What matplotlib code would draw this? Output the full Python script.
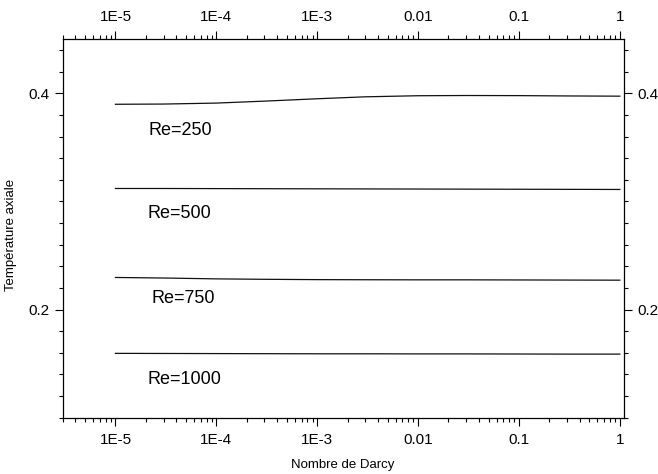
import numpy as np
import matplotlib
matplotlib.use("Agg")
import matplotlib.pyplot as plt
from matplotlib.ticker import FixedLocator, FixedFormatter, NullFormatter

plt.rcParams['font.family'] = ['Liberation Sans', 'DejaVu Sans']

# Data
darcy = [1e-5, 3e-5, 1e-4, 3e-4, 1e-3, 3e-3, 1e-2, 3e-2, 1e-1, 3e-1, 1.0]
t_re250 = [0.3899, 0.3901, 0.3910, 0.3928, 0.3950, 0.3968, 0.3978, 0.3980, 0.3979, 0.3976, 0.3974]
t_re500 = [0.3120, 0.3120, 0.3119, 0.3118, 0.3117, 0.3116, 0.3115, 0.3114, 0.3113, 0.3112, 0.3111]
t_re750 = [0.2297, 0.2292, 0.2284, 0.2280, 0.2277, 0.2276, 0.2275, 0.2275, 0.2274, 0.2273, 0.2272]
t_re1000 = [0.1595, 0.1594, 0.1593, 0.1592, 0.1591, 0.1591, 0.1590, 0.1590, 0.1589, 0.1588, 0.1588]
series = [t_re250, t_re500, t_re750, t_re1000]
labels = ["Re=250", "Re=500", "Re=750", "Re=1000"]
label_x = [2.15e-5, 2.1e-5, 2.3e-5, 2.1e-5]
label_y = [0.3655, 0.2890, 0.2107, 0.1352]

x_ticks = [1e-5, 1e-4, 1e-3, 1e-2, 1e-1, 1.0]
x_ticklabels = ["1E-5", "1E-4", "1E-3", "0.01", "0.1", "1"]
y_ticks = [0.2, 0.4]
y_ticklabels = ["0.2", "0.4"]

fig = plt.figure(figsize=(6.58, 4.74), dpi=100)
ax = fig.add_axes([0.0953, 0.1188, 0.8530, 0.7983])

for s in series:
    ax.plot(darcy, s, color='#111111', lw=0.9)
for lab, lx, ly in zip(labels, label_x, label_y):
    ax.text(lx, ly, lab, fontsize=13, ha='left', va='center')

ax.set_xscale('log')
ax.set_xlim(3e-6, 1.1)
ax.set_ylim(0.1, 0.45)

ax.xaxis.set_major_locator(FixedLocator(x_ticks))
ax.xaxis.set_major_formatter(FixedFormatter(x_ticklabels))
minor_x = [m * 10.0**e for e in range(-6, 1) for m in range(2, 10)]
minor_x = [v for v in minor_x if 3e-6 <= v <= 1.1]
ax.xaxis.set_minor_locator(FixedLocator(minor_x))
ax.xaxis.set_minor_formatter(NullFormatter())

ax.yaxis.set_major_locator(FixedLocator(y_ticks))
ax.yaxis.set_major_formatter(FixedFormatter(y_ticklabels))
minor_y = [round(0.1 + 0.02 * i, 2) for i in range(0, 18)]
minor_y = [v for v in minor_y if v not in (0.2, 0.4)]
ax.yaxis.set_minor_locator(FixedLocator(minor_y))

for sp in ax.spines.values():
    sp.set_linewidth(0.9)

ax.tick_params(which='both', direction='out', top=True, right=True,
               labeltop=True, labelright=True, width=0.8, colors='black')
ax.tick_params(which='major', length=6, labelsize=11, pad=4)
ax.tick_params(which='minor', length=3)
ax.tick_params(axis='x', which='major', pad=5)
ax.tick_params(axis='y', which='major', pad=3.5)

fig.text(343 / 658, 1 - 465 / 474, "Nombre de Darcy", fontsize=9.5,
         ha='center', va='center')
fig.text(11 / 658, 1 - 235 / 474, "Température axiale", fontsize=9.5,
         ha='center', va='center', rotation=90)

fig.savefig("out.png", dpi=100)
